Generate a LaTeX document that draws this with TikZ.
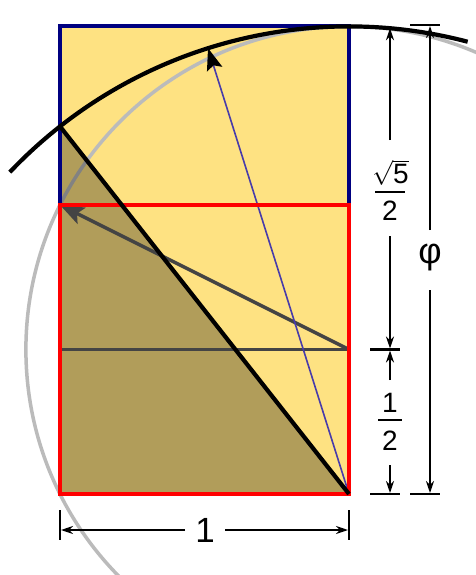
\documentclass[tikz,border=0pt]{standalone}
\usepackage{fontspec}
\setmainfont{Liberation Sans}
\usetikzlibrary{arrows.meta}
\definecolor{goldy}{RGB}{254,226,130}
\definecolor{lgray}{RGB}{187,187,187}
\definecolor{dgray}{RGB}{68,68,68}
\definecolor{slateb}{RGB}{72,60,170}
\definecolor{navyb}{RGB}{0,0,128}
\tikzset{
  dimline/.style={line width=2.2pt,-{Stealth[length=12pt,width=8pt]}},
  tickline/.style={line width=2.2pt},
  fracbar/.style={line width=1.8pt},
  frame/.style={line width=4pt},
  biglbl/.style={inner sep=0pt},
  fraclbl/.style={inner sep=0pt,anchor=base,font=\fontsize{28}{30}\selectfont},
}
\begin{document}
\begin{tikzpicture}[x=1pt,y=-1pt]
\useasboundingbox (0,0) rectangle (475,575);
\coordinate (A) at (60,494);
\coordinate (B) at (349,494);
\coordinate (ML) at (60,349.5);
\coordinate (M) at (349,349.5);
\coordinate (D) at (60,205);
\coordinate (C) at (349,205);
\coordinate (E) at (60,26.4);
\coordinate (F) at (349,26.4);
\coordinate (P) at (60,126.4);
\path (B) ++(252.45:467.6) coordinate (T);
% fills
\fill[goldy] (E) rectangle (B);
\draw[lgray,line width=3.5pt] (M) circle[radius=323.1];
\fill[black,opacity=0.3] (P) -- (B) -- (A) -- cycle;
% inner lines
\draw[dgray,line width=3.5pt] (ML) -- (M);
\draw[dgray,line width=3.5pt,-{Stealth[length=24pt,width=18pt,inset=5pt]}] (M) -- (D);
\draw[slateb,line width=1.6pt,-{Stealth[length=22pt,width=16pt,inset=4pt,black]}] (B) -- (T);
% frames
\draw[navyb,frame] (D) -- (E) -- (F) -- (C);
\draw[red,frame] (D) rectangle (B);
% black line and arc
\draw[black,line width=4.2pt] (P) -- (B);
\draw[black,line width=4.2pt] (B) ++(223.5:467.6) arc[start angle=223.5,end angle=284.7,radius=467.6];
% dimension ticks
\coordinate (t1a) at (370,349.5); \coordinate (t1b) at (400,349.5);
\coordinate (t2a) at (370,494); \coordinate (t2b) at (400,494);
\coordinate (t3a) at (410,494); \coordinate (t3b) at (440,494);
\coordinate (t4a) at (410,25); \coordinate (t4b) at (440,25);
\coordinate (t5a) at (60,510); \coordinate (t5b) at (60,540);
\coordinate (t6a) at (349,510); \coordinate (t6b) at (349,540);
\draw[tickline] (t1a) -- (t1b);
\draw[tickline] (t2a) -- (t2b);
\draw[tickline] (t3a) -- (t3b);
\draw[tickline] (t4a) -- (t4b);
\draw[tickline] (t5a) -- (t5b);
\draw[tickline] (t6a) -- (t6b);
% labels
\node[fraclbl] (r5n) at (390.5,183.5) {$\sqrt{\mbox{5}}$};
\coordinate (r5bl) at (375,192); \coordinate (r5br) at (405,192);
\draw[fracbar] (r5bl) -- (r5br);
\node[fraclbl] (r5d) at (390,220) {2};
\node[fraclbl] (h1n) at (390,412.5) {1};
\coordinate (h1bl) at (378,420); \coordinate (h1br) at (402,420);
\draw[fracbar] (h1bl) -- (h1br);
\node[fraclbl] (h1d) at (390,450) {2};
\node[biglbl,font=\fontsize{36}{40}\selectfont] (phi) at (430,258) {φ};
\node[biglbl,font=\fontsize{35}{40}\selectfont] (one) at (205,530) {1};
% dimension arrows
\coordinate (r5top) at (390,28.2);
\coordinate (r5bot) at (390,348.5);
\coordinate (h5top) at (390,350.5);
\coordinate (h5bot) at (390,493);
\coordinate (phtop) at (430,26);
\coordinate (phbot) at (430,493);
\coordinate (olft) at (61,530);
\coordinate (orgt) at (348,530);
\draw[dimline] (390,140) -- (r5top);
\draw[dimline] (390,236) -- (r5bot);
\draw[dimline] (390,380) -- (h5top);
\draw[dimline] (390,465) -- (h5bot);
\draw[dimline] (430,230) -- (phtop);
\draw[dimline] (430,290) -- (phbot);
\draw[dimline] (185,530) -- (olft);
\draw[dimline] (225,530) -- (orgt);
\end{tikzpicture}
\end{document}
